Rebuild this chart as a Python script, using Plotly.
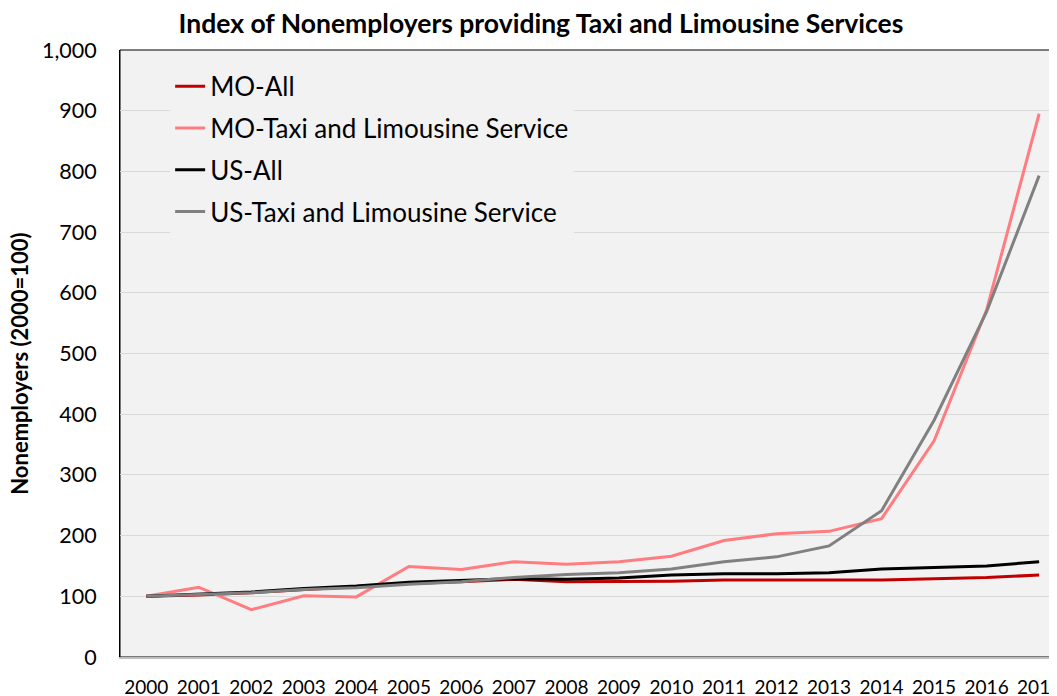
import plotly.graph_objects as go

years = [str(y) for y in range(2000, 2018)]

mo_all = [100, 102, 106, 111, 116, 121, 124, 128, 124, 124, 125, 127, 127, 127, 127, 129, 131, 135]
mo_taxi = [100, 115, 78, 101, 99, 149, 144, 157, 153, 157, 166, 192, 203, 207, 228, 356, 572, 895]
us_all = [100, 103, 107, 113, 117, 123, 126, 129, 128, 130, 135, 137, 137, 139, 145, 147, 150, 157]
us_taxi = [100, 103, 106, 111, 114, 120, 124, 131, 136, 139, 145, 157, 165, 183, 241, 390, 569, 793]

series = [
    ("MO-All", mo_all, "#c00000"),
    ("MO-Taxi and Limousine Service", mo_taxi, "#ff7c80"),
    ("US-All", us_all, "#000000"),
    ("US-Taxi and Limousine Service", us_taxi, "#808080"),
]

font = "Lato, Carlito, 'Open Sans', sans-serif"

fig = go.Figure()
for name, vals, col in series:
    fig.add_trace(go.Scatter(x=years, y=vals, name=name, mode="lines", legendgroup=name,
                             line=dict(color=col, width=3)))

# the page body adds an 8px offset, so margins are shifted to compensate
fig.update_layout(
    width=1057, height=696,
    margin=dict(l=112, r=8, t=42, b=47, autoexpand=False),
    paper_bgcolor="white",
    plot_bgcolor="#f2f2f2",
    font=dict(family=font, color="#000000", size=19),
    title=dict(text="<b>Index of Nonemployers providing Taxi and Limousine Services</b>",
               x=533 / 1057, xanchor="center", y=1 - 16 / 696, yanchor="middle",
               font=dict(size=26.5)),
    showlegend=True,
    legend=dict(x=0.0535, y=0.979, xanchor="left", yanchor="top",
                bgcolor="#f2f2f2", font=dict(size=26),
                tracegroupgap=5, itemwidth=30),
    shapes=[dict(type="rect", xref="paper", yref="paper", x0=0, x1=1, y0=0, y1=1,
                 line=dict(color="#000000", width=1), layer="below")],
    annotations=[dict(text="<b>Nonemployers (2000=100)</b>", textangle=-90,
                      xref="paper", yref="paper", x=-0.1068, y=0.483,
                      xanchor="center", yanchor="middle", showarrow=False,
                      font=dict(size=22))],
)

fig.update_xaxes(
    type="category", range=[-0.5, 17.34], automargin=False,
    showgrid=False, showline=True, linecolor="#bfbfbf", linewidth=2,
    ticks="outside", ticklen=12, tickcolor="rgba(0,0,0,0)",
    tickfont=dict(size=19),
)
fig.update_yaxes(
    range=[0, 1000], dtick=100, tickformat=",d", automargin=False,
    showgrid=True, gridcolor="#d9d9d9", gridwidth=1,
    showline=True, linecolor="#000000", linewidth=1,
    ticks="outside", ticklen=18, tickcolor="rgba(0,0,0,0)",
    tickfont=dict(size=21.5), zeroline=False,
)

fig.write_html("out.html")
